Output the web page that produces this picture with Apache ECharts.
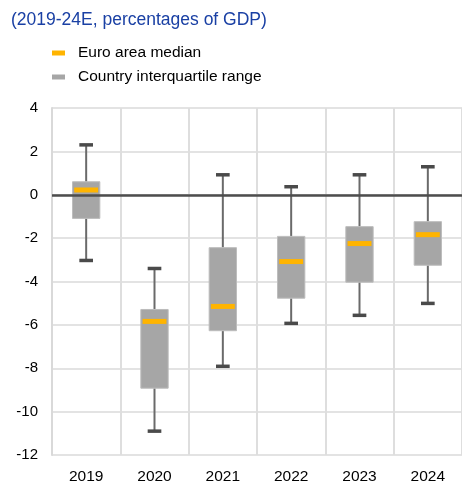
<!DOCTYPE html>
<html>
<head>
<meta charset="utf-8">
<script src="https://cdn.jsdelivr.net/npm/echarts@6/dist/echarts.min.js"></script>
<style>
  html, body { margin: 0; padding: 0; background: #fff; }
  #chart { width: 462px; height: 485px; }
</style>
</head>
<body>
<div id="chart"></div>
<script>
// categories and values
var years = ['2019', '2020', '2021', '2022', '2023', '2024'];
var whiskerLow = [-3.03, -10.9, -7.91, -5.93, -5.56, -5.01];
var q1 = [-1.09, -8.92, -6.27, -4.77, -4.03, -3.25];
var median = [0.22, -5.84, -5.15, -3.08, -2.25, -1.84];
var q3 = [0.6, -5.29, -2.44, -1.92, -1.47, -1.24];
var whiskerHigh = [2.3, -3.4, 0.92, 0.37, 0.92, 1.29];

var fontFamily = 'Liberation Sans, Arial, sans-serif';

var boxData = years.map(function (y, i) {
  return [i, whiskerLow[i], q1[i], q3[i], whiskerHigh[i]];
});
var medianData = years.map(function (y, i) {
  return [i, median[i]];
});

function renderBox(params, api) {
  var x = api.value(0);
  var pLow = api.coord([x, api.value(1)]);
  var pQ1 = api.coord([x, api.value(2)]);
  var pQ3 = api.coord([x, api.value(3)]);
  var pHigh = api.coord([x, api.value(4)]);
  var bandW = api.size([1, 0])[0];
  var boxW = bandW * 0.4;
  var capW = bandW * 0.2;
  var cx = pQ1[0];
  return {
    type: 'group',
    children: [
      { type: 'line', shape: { x1: cx, y1: pHigh[1], x2: cx, y2: pQ3[1] },
        style: { stroke: '#6a6a6a', lineWidth: 2 } },
      { type: 'line', shape: { x1: cx, y1: pQ1[1], x2: cx, y2: pLow[1] },
        style: { stroke: '#6a6a6a', lineWidth: 2 } },
      { type: 'line', shape: { x1: cx - capW / 2, y1: pHigh[1], x2: cx + capW / 2, y2: pHigh[1] },
        style: { stroke: '#4a4a4a', lineWidth: 3.5 } },
      { type: 'line', shape: { x1: cx - capW / 2, y1: pLow[1], x2: cx + capW / 2, y2: pLow[1] },
        style: { stroke: '#4a4a4a', lineWidth: 3.5 } },
      { type: 'rect', shape: { x: cx - boxW / 2, y: pQ3[1], width: boxW, height: pQ1[1] - pQ3[1] },
        style: { fill: '#a6a6a6', stroke: '#bdbdbd', lineWidth: 1 } }
    ]
  };
}

function renderMedian(params, api) {
  var p = api.coord([api.value(0), api.value(1)]);
  var bandW = api.size([1, 0])[0];
  var w = bandW * 0.35;
  return {
    type: 'rect',
    shape: { x: p[0] - w / 2, y: p[1] - 2.5, width: w, height: 5 },
    style: { fill: '#ffb400' }
  };
}

var drawCharts = echarts.init(document.getElementById('chart'));
var option = {
  animation: false,
  title: {
    text: '(2019-24E, percentages of GDP)',
    left: 6,
    top: 6,
    textStyle: { color: '#1a40a4', fontSize: 17.5, fontWeight: 'normal', fontFamily: fontFamily }
  },
  legend: {
    orient: 'vertical',
    left: 47,
    top: 40,
    itemWidth: 13,
    itemHeight: 5,
    itemGap: 8,
    icon: 'rect',
    textStyle: { color: '#000', fontSize: 15.5, fontFamily: fontFamily, padding: [0, 0, 0, 8] },
    data: [
      { name: 'Euro area median', itemStyle: { color: '#ffb400' } },
      { name: 'Country interquartile range', itemStyle: { color: '#a6a6a6' } }
    ]
  },
  grid: {
    left: 52,
    top: 108,
    width: 415,
    height: 347
  },
  xAxis: {
    type: 'category',
    data: years,
    axisLine: { show: true, lineStyle: { color: '#d9d9d9', width: 2 } },
    axisTick: { show: false },
    axisLabel: { color: '#000', fontSize: 15.5, fontFamily: fontFamily, margin: 14 },
    splitLine: { show: true, lineStyle: { color: '#dedede', width: 2 } }
  },
  yAxis: {
    type: 'value',
    min: -12,
    max: 4,
    interval: 2,
    axisLine: { show: true, lineStyle: { color: '#d9d9d9', width: 2 } },
    axisTick: { show: false },
    axisLabel: { color: '#000', fontSize: 15, fontFamily: fontFamily, margin: 14 },
    splitLine: { show: true, lineStyle: { color: '#e3e3e3', width: 2 } }
  },
  series: [
    {
      name: 'Country interquartile range',
      type: 'custom',
      renderItem: renderBox,
      itemStyle: { color: '#a6a6a6' },
      encode: { x: 0, y: [1, 2, 3, 4] },
      data: boxData,
      z: 3,
      markLine: {
        silent: true,
        symbol: 'none',
        label: { show: false },
        lineStyle: { color: '#4d4d4d', width: 2.5, type: 'solid' },
        data: [{ yAxis: 0 }]
      }
    },
    {
      name: 'Euro area median',
      type: 'custom',
      renderItem: renderMedian,
      itemStyle: { color: '#ffb400' },
      encode: { x: 0, y: 1 },
      data: medianData,
      z: 4
    }
  ]
};
drawCharts.setOption(option);
</script>
</body>
</html>
